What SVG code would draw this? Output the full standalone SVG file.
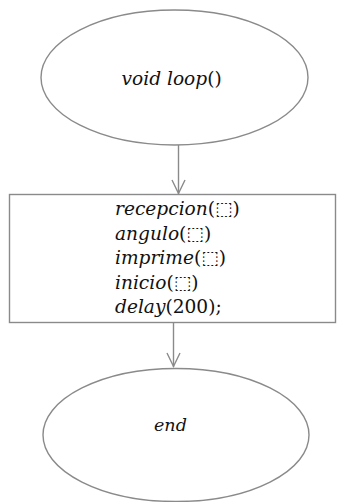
<svg xmlns="http://www.w3.org/2000/svg" width="338" height="502" viewBox="0 0 338 502">
<defs>
<style>
.shape{fill:#fff;stroke:#8a8a8a;stroke-width:1.4}
.line{fill:none;stroke:#8a8a8a;stroke-width:1.4}
.t{font-family:"DejaVu Serif","Liberation Serif",serif;font-size:18.6px;fill:#111}
.i{font-style:italic}
</style>
</defs>
<rect width="338" height="502" fill="#fff"/>
<g id="connectors">
<line class="line" x1="178.5" y1="145" x2="178.5" y2="194"/>
<line class="line" x1="173.5" y1="323" x2="173.5" y2="367"/>
<path class="line" d="M172,180 L178.5,193.5 L185,180"/>
<path class="line" d="M167,353 L173.5,366.5 L180,353"/>
</g>
<g id="start">
<ellipse class="shape" cx="174.5" cy="77.5" rx="133.5" ry="67.5"/>
<text class="t" x="121.5" y="85"><tspan class="i">void loop</tspan>()</text>
</g>
<g id="process">
<rect class="shape" x="9.5" y="194.5" width="326" height="128"/>
<text class="t" x="115" y="215"><tspan class="i">recepcion</tspan>(⬚)</text>
<text class="t" x="115" y="239.5"><tspan class="i">angulo</tspan>(⬚)</text>
<text class="t" x="115" y="264"><tspan class="i">imprime</tspan>(⬚)</text>
<text class="t" x="115" y="288.5"><tspan class="i">inicio</tspan>(⬚)</text>
<text class="t" x="115" y="313"><tspan class="i">delay</tspan>(200);</text>
</g>
<g id="end">
<ellipse class="shape" cx="176" cy="435" rx="133" ry="66.5"/>
<text class="t i" x="154" y="431" style="font-size:17.5px">end</text>
</g>
</svg>
